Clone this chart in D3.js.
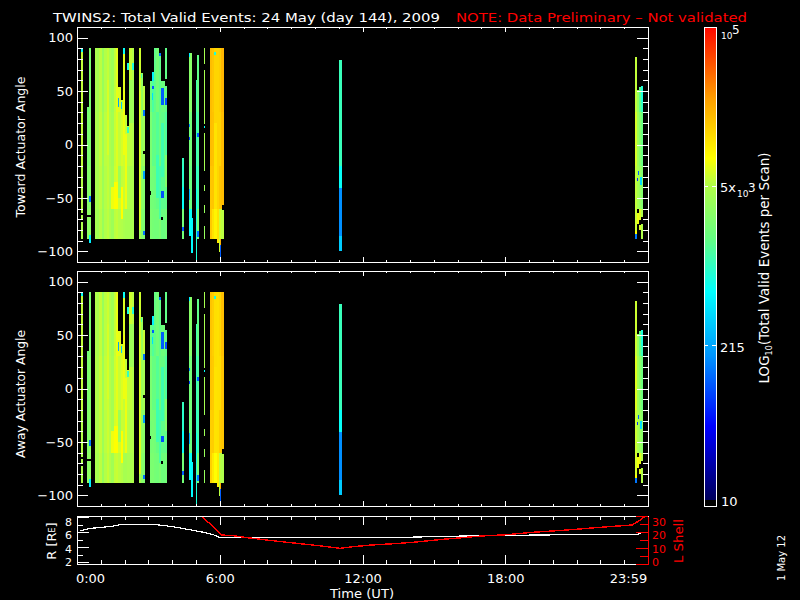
<!DOCTYPE html>
<html><head><meta charset="utf-8">
<script src="https://cdn.jsdelivr.net/npm/d3@7"></script>
<style>
html,body{margin:0;padding:0;background:#000;overflow:hidden}
svg{display:block}
text{font-family:"DejaVu Sans",sans-serif;font-size:13px;fill:#fff}
path,line,rect{shape-rendering:crispEdges}
</style></head><body><svg id="c" width="800" height="600"></svg>
<script>
// ---------- data ----------
const titleWhite="TWINS2: Total Valid Events: 24 May (day 144), 2009";
const titleRed="NOTE: Data Preliminary \u2013 Not validated";
const timeTicks=[0,6,12,18,24];
const timeLabels=["0:00","6:00","12:00","18:00","23:59"];
const hourMinor=[1,2,3,4,5,7,8,9,10,11,13,14,15,16,17,19,20,21,22,23];
const angleMajor=[-100,-50,0,50,100];
const angleMinor=[-90,-80,-70,-60,-40,-30,-20,-10,10,20,30,40,60,70,80,90];
const rMajor=[2,4,6,8], rMinor=[3,5,7];
const lMajor=[0,10,20,30], lMinor=[5,15,25];
// scans: start hour, end hour, top and bottom angle, log10 counts in four angle bands
const scanStart=[.16,.44,.50,.74,.84,.94,1.04,1.14,1.24,1.34,1.44,1.54,1.64,1.71,1.85,1.93,2.02,2.12,2.2,2.3,2.6,2.68,2.78,3.07,3.15,3.24,3.34,3.44,3.54,3.68,4.4,4.69,4.79,5.0,5.05,5.32,5.57,5.67,5.77,5.87,5.97,6.07,11.0,23.47,23.55,23.64,23.72];
const scanEnd  =[.25,.50,.58,.84,.94,1.04,1.14,1.24,1.34,1.44,1.54,1.64,1.71,1.85,1.93,2.02,2.12,2.2,2.3,2.38,2.68,2.78,2.85,3.15,3.24,3.34,3.44,3.54,3.68,3.77,4.48,4.82,4.86,5.05,5.13,5.4,5.67,5.77,5.87,5.97,6.07,6.18,11.12,23.55,23.64,23.72,23.8];
const scanTop  =[90,35,90,90,90,90,90,90,90,90,90,90,90,54,42,90,28,17,90,90,90,67,55,59,68,90,90,86,59,90,-13,86,-69,60,84,90,90,90,90,90,90,90,79,82,51,54,55];
const scanBot  =[-88,-88,-92,-88,-88,-88,-88,-88,-88,-88,-88,-88,-88,-88,-88,-88,-88,-88,-88,-88,-88,-88,-88,-88,-88,-88,-88,-88,-88,-88,-88,-86,-102,-110,-88,-88,-88,-88,-88,-92,-101,-88,-100,-88,-74,-80,-88];
const bandHigh =[3.72,3.3,3.35,3.62,3.58,3.7,3.52,3.68,3.72,3.62,3.55,3.72,3.82,3.8,3.72,3.82,3.7,3.7,3.74,3.68,3.76,3.5,3.7,3.25,3.1,3.2,3.3,3.2,3.25,3.2,3.1,3.42,2.85,3.05,3.2,3.6,4.25,4.2,4.12,4.12,4.15,4.28,3.02,3.72,3.5,3.2,3.0];
const bandMid  =[3.72,3.35,3.38,3.64,3.6,3.72,3.54,3.7,3.72,3.64,3.57,3.74,3.8,3.72,3.78,3.75,3.72,3.7,3.7,3.66,3.7,3.5,3.55,3.28,3.2,3.22,3.15,3.25,3.2,3.12,3.0,3.3,2.85,3.0,3.12,3.6,4.25,4.22,4.12,4.12,4.12,4.25,3.02,3.78,3.55,3.4,3.25];
const bandLow  =[3.68,3.4,3.42,3.62,3.6,3.7,3.55,3.68,3.72,3.65,3.58,3.76,3.8,3.75,3.72,3.74,3.78,3.66,3.64,3.64,3.66,3.45,3.4,3.32,3.3,3.28,3.22,3.3,3.18,3.2,2.95,3.25,2.75,2.95,3.05,3.55,4.2,4.2,4.18,4.12,4.2,4.25,2.8,3.72,3.6,3.5,3.4];
const bandEdge =[3.64,3.45,3.45,3.6,3.56,3.68,3.52,3.66,3.7,3.62,3.55,3.7,3.72,3.68,3.66,3.62,3.6,3.6,3.6,3.62,3.6,3.4,3.35,3.35,3.32,3.3,3.3,3.35,3.25,3.3,3.3,2.8,2.75,2.9,3.3,3.5,4.18,4.05,3.95,4.05,3.75,3.7,2.55,3.75,3.85,3.8,3.65];
// extra log offset for each scan on the away panel
const awayDelta=[0,0,.02,.03,.03,.02,0,.02,.03,.04,.02,.02,.02,.02,.02,-.02,0,.03,.02,.02,0,.03,.03,0,.03,.02,0,0,.02,0,0,0,0,0,0,0,-.04,-.04,-.05,-.06,-.05,-.05,0,.03,.02,.02,.02];
// black gaps: start hour, end hour, top angle, bottom angle
const gapStart=[.16,.16,.44,.50,2.78,3.68,3.07,3.54,5.32,5.32,5.32,5.32,5.32,5.32,5.32,6.1,23.64,23.72,23.55];
const gapEnd  =[.25,.25,.50,.58,2.85,3.77,3.11,3.6,5.4,5.4,5.4,5.4,5.4,5.4,5.4,6.18,23.72,23.8,23.64];
const gapTop  =[-64,-71,-66,-66,-6,61,-44,-68,75,19,15,-25,-28,-44,-64,-57,-71,-68,-60];
const gapBot  =[-66,-73,-68,-68,-9,55,-47,-71,70,17,11,-38,-32,-57,-76,-61,-75,-74,-64];
// off-colour cells: start hour, end hour, top angle, bottom angle, log10 counts
const spotStart=[.16,.50,.50,1.71,1.85,1.93,2.12,2.12,2.3,2.78,2.78,2.78,2.68,3.15,3.15,3.15,3.44,3.54,3.68,3.54,4.4,4.4,4.69,4.69,4.69,4.69,5.05,5.05,5.0,5.32,5.32,5.32,5.75,6.0,6.0,11.0,11.02,23.47,23.6,23.55,23.72,23.68,23.47,
  1.93,1.54,1.85,1.71,2.02,2.2,1.44,1.24,3.34,3.54,3.07,3.44,3.68,2.6,5.77];
const spotEnd  =[.25,.58,.58,1.76,1.89,2.02,2.2,2.2,2.38,2.85,2.85,2.85,2.74,3.24,3.24,3.2,3.54,3.65,3.77,3.65,4.48,4.48,4.73,4.73,4.77,4.77,5.13,5.13,5.05,5.4,5.4,5.4,5.85,6.07,6.07,11.12,11.12,23.55,23.64,23.59,23.8,23.76,23.52,
  2.02,1.71,1.93,1.85,2.12,2.38,1.54,1.34,3.44,3.65,3.15,3.54,3.77,2.68,5.87];
const spotTop  =[90,-48,-85,44,40,90,16,76,76,32,-25,-81,66,68,55,48,86,53,44,-44,-77,-40,19,7,86,-42,11,-81,-42,17,-28,-32,87,-88,-94,-41,-86,-81,-25,-31,55,-30,-84,
  50,-35,-40,-20,10,60,-40,60,-10,20,30,-20,-10,50,20];
const spotBot  =[87,-54,-92,35,33,85,11,70,70,27,-32,-85,62,59,52,42,83,37,37,-50,-81,-60,16,4,82,-52,7,-87,-70,15,-29,-33,84,-94,-110,-86,-100,-84,-29,-34,40,-38,-88,
  -10,-60,-70,-50,-60,20,-60,-10,-50,-30,-30,-70,-40,-80,-60];
const spotLog  =[2.8,2.1,2.7,2.3,2.5,2.8,3.0,2.9,2.9,2.1,2.3,2.1,3.05,2.7,2.0,2.6,2.1,2.0,1.95,1.95,2.0,2.8,2.2,1.9,2.7,2.4,2.0,2.1,2.8,2.8,2.8,2.8,2.9,4.3,2.0,2.2,2.5,3.9,2.0,1.8,2.9,2.6,2.1,
  3.85,3.9,3.9,3.55,3.85,3.55,3.85,3.78,3.05,3.05,3.35,3.1,3.4,3.8,4.05];
// ephemeris curves
const rHour=[.15,.53,1.4,1.8,3.35,4.0,4.75,5.3,5.7,6,7,12,14,17.2,20.4,23.5,23.7];
const rValue=[6.16,6.47,6.73,6.96,6.96,6.73,6.3,5.97,5.67,5.27,5.27,5.27,5.31,5.53,5.63,5.67,5.8];
const lHour=[5.24,6.08,6.54,7.26,7.97,8.8,10.2,11.04,11.6,12.4,13.56,14.27,15.37,17,18.05,19.15,20.6,21.96,23.35,23.77,23.85];
const lValue=[30,18.1,17.7,16.25,15,13.6,11.4,9.8,10.8,11.9,12.9,13.75,15.4,17.5,18.3,19.8,21.25,22.9,24.4,28.5,29.5];
// colour table, against log10 counts
const colourLog=[1,1.63,2.23,2.77,3.22,3.68,3.9,4.4,5];
const colourHex=["#00005a","#0000ff","#0096ff","#00ffff","#64ff82","#b4ff46","#ffff00","#ffa000","#ff0a00"];

// ---------- scales ----------
const svg=d3.select("#c");
svg.append("rect").attr("width",800).attr("height",600).attr("fill","#000");
const x=d3.scaleLinear().domain([0,24]).range([77,648]);
const yTop=d3.scaleLinear().domain([-110,110]).range([262,27]);
const yBot=d3.scaleLinear().domain([-110,110]).range([506,271]);
const yR=d3.scaleLinear().domain([2,8]).range([562,517]);
const yL=d3.scaleLinear().domain([0,30]).range([564,516]);
const colour=d3.scaleLinear().domain(colourLog).range(colourHex).clamp(true);
const yBar=d3.scaleLinear().domain([1,5]).range([500,28]);

function bandOf(i,hi,lo){
  return hi>30?bandHigh[i]:hi>-20?bandMid[i]:hi>-60?bandLow[i]:bandEdge[i];
}
const bands=[[90,30],[30,-20],[-20,-60],[-60,-112]];

function heat(y,delta,shift){
  const g=svg.append("g");
  const rectOf=(t0,t1,hi,lo,c)=>g.append("rect")
    .attr("x",Math.round(x(t0))).attr("width",Math.max(1,Math.round(x(t1))-Math.round(x(t0))))
    .attr("y",Math.round(y(hi))).attr("height",Math.max(1,Math.round(y(lo))-Math.round(y(hi))))
    .attr("fill",c);
  scanStart.forEach((s,i)=>{
    bands.forEach(([hi,lo])=>{
      const a=Math.min(hi,scanTop[i]), b=Math.max(lo,scanBot[i]);
      if(a>b) rectOf(s,scanEnd[i],a,b,colour(bandOf(i,hi,lo)+delta[i]));
    });
  });
  spotStart.forEach((s,i)=>rectOf(s,spotEnd[i],spotTop[i]+shift,spotBot[i]+shift,colour(spotLog[i])));
  gapStart.forEach((s,i)=>rectOf(s,gapEnd[i],gapTop[i],gapBot[i],"#000"));
}
const noDelta=scanStart.map(()=>0);
heat(yTop,noDelta,0);
heat(yBot,awayDelta,0);

// ---------- axes ----------
function place(ax,tx,ty,col,size){
  const g=svg.append("g").attr("transform",`translate(${tx},${ty})`).call(ax);
  g.selectAll("path,line").attr("stroke",col||"#fff").attr("stroke-width",1);
  g.selectAll("text").attr("fill",col||"#fff").style("fill",col||"#fff")
    .style("font-family",'"DejaVu Sans",sans-serif').style("font-size",(size||13)+"px");
  return g;
}
function anglePanel(y){
  const [b,t]=y.range();
  place(d3.axisLeft(y).tickValues(angleMajor).tickSize(-11).tickSizeOuter(0).tickPadding(4),77,0);
  place(d3.axisLeft(y).tickValues(angleMinor).tickSize(-6).tickSizeOuter(0).tickFormat(""),77,0);
  place(d3.axisRight(y).tickValues(angleMajor).tickSize(-11).tickSizeOuter(0).tickFormat(""),648,0);
  place(d3.axisRight(y).tickValues(angleMinor).tickSize(-5).tickSizeOuter(0).tickFormat(""),648,0);
  place(d3.axisBottom(x).tickValues(timeTicks).tickSize(-5).tickSizeOuter(0).tickFormat(""),0,b);
  place(d3.axisBottom(x).tickValues(hourMinor).tickSize(-2).tickSizeOuter(0).tickFormat(""),0,b);
  place(d3.axisTop(x).tickValues(timeTicks).tickSize(-5).tickSizeOuter(0).tickFormat(""),0,t);
  place(d3.axisTop(x).tickValues(hourMinor).tickSize(-2).tickSizeOuter(0).tickFormat(""),0,t);
}
anglePanel(yTop); anglePanel(yBot);

// ephemeris panel
const line=(yy)=>d3.line().x(d=>x(d[0])).y(d=>yy(d[1]));
svg.append("path").datum(rHour.map((h,i)=>[h,rValue[i]])).attr("d",line(yR)).attr("fill","none").attr("stroke","#fff").attr("stroke-width",1.2);
svg.append("path").datum(lHour.map((h,i)=>[h,lValue[i]])).attr("d",line(yL)).attr("fill","none").attr("stroke","#f00").attr("stroke-width",1.4);

const yRfull=d3.scaleLinear().domain([yR.invert(564),yR.invert(516)]).range([564,516]);
const rAxis=place(d3.axisLeft(yRfull).tickValues(rMajor).tickSize(-12).tickSizeOuter(0).tickPadding(5).tickFormat(d3.format("d")),77,0,"#fff",11);
const rShift={8:4,6:2,4:1,2:-1};
rAxis.selectAll(".tick text").attr("dy",d=>(4+rShift[d])+"px");
place(d3.axisLeft(yRfull).tickValues(rMinor).tickSize(-6).tickSizeOuter(0).tickFormat(""),77,0);
const tBottom=place(d3.axisBottom(x).tickValues(timeTicks).tickSize(-9).tickSizeOuter(0).tickPadding(10).tickFormat((d,i)=>timeLabels[i]),0,564);
tBottom.selectAll(".tick text").attr("dx",d=>d===0?"13px":d===24?"-20px":"0");
place(d3.axisBottom(x).tickValues(hourMinor).tickSize(-4).tickSizeOuter(0).tickFormat(""),0,564);
place(d3.axisTop(x).tickValues(timeTicks).tickSize(-9).tickSizeOuter(0).tickFormat(""),0,516);
place(d3.axisTop(x).tickValues(hourMinor).tickSize(-4).tickSizeOuter(0).tickFormat(""),0,516);
const lAxis=place(d3.axisRight(yL).tickValues(lMajor).tickSize(-12).tickSizeOuter(0).tickPadding(4).tickFormat(d3.format("d")),648,0,"#f00",11);
const lShift={30:5,20:2,10:0,0:-3};
lAxis.selectAll(".tick text").attr("dy",d=>(4+lShift[d])+"px").attr("text-anchor","start");
place(d3.axisRight(yL).tickValues(lMinor).tickSize(-8).tickSizeOuter(0).tickFormat(""),648,0,"#f00");

// ---------- colour bar ----------
const barLogs=d3.range(0,472).map(i=>yBar.invert(28+i));
svg.append("g").selectAll("rect").data(barLogs).join("rect")
  .attr("x",705).attr("width",11).attr("y",d=>Math.round(yBar(d))).attr("height",1).attr("fill",d=>colour(d));
svg.append("rect").attr("x",704.5).attr("y",27).attr("width",12).attr("height",479).attr("fill","none").attr("stroke","#fff");
const barTicks=[Math.log10(215),Math.log10(5000)];
const yBarLab=d3.scaleLinear().domain([1,Math.log10(215),Math.log10(5000),5]).range([502,345,186,30]);
[[705,3],[712,4]].forEach(([bx,w])=>svg.append("g").selectAll("line").data(barTicks).join("line")
  .attr("x1",bx).attr("x2",bx+w).attr("y1",d=>Math.round(yBarLab(d))+.5).attr("y2",d=>Math.round(yBarLab(d))+.5)
  .attr("stroke","#fff"));

// ---------- text ----------
function label(tx,ty,s,o={}){
  const t=svg.append("text").attr("x",tx).attr("y",ty).text(s);
  if(o.size) t.style("font-size",o.size+"px");
  if(o.fill) t.style("fill",o.fill);
  if(o.len) t.attr("textLength",o.len).attr("lengthAdjust","spacingAndGlyphs");
  if(o.anchor) t.attr("text-anchor",o.anchor);
  return t;
}
function vlabel(bx,cy,s,o={}){
  return label(0,0,s,Object.assign({anchor:"middle"},o)).attr("transform",`translate(${bx},${cy}) rotate(-90)`);
}
label(53,22,titleWhite,{len:387});
label(456,22,titleRed,{fill:"#f00",len:291});
label(362,598,"Time (UT)",{anchor:"middle",len:64});
vlabel(25,147,"Toward Actuator Angle",{len:141});
vlabel(25,394,"Away Actuator Angle",{len:128});
const rt=vlabel(56,541,"R [R");
rt.append("tspan").text("E").style("font-size","8px").attr("dy","-1");
rt.append("tspan").text("]").attr("dy","1");
vlabel(683,541,"L Shell",{fill:"#f00",len:44});
const lt=vlabel(769,268,"LOG",{size:13.5});
lt.append("tspan").text("10").style("font-size","8px").attr("dy","3");
lt.append("tspan").text("(Total Valid Events per Scan)").attr("dy","-3");
vlabel(785,558,"1 May 12",{size:10,len:46});
// colour-bar labels
const ten=(lx,ly,sup)=>{
  label(lx,ly,"10",{size:9});
  label(lx+11,ly-5,sup,{size:12});
};
ten(721,39,"5");
label(720,192,"5x"); ten(737,197,"3");
label(720,352,"215");
label(721,506,"10");
</script></body></html>
